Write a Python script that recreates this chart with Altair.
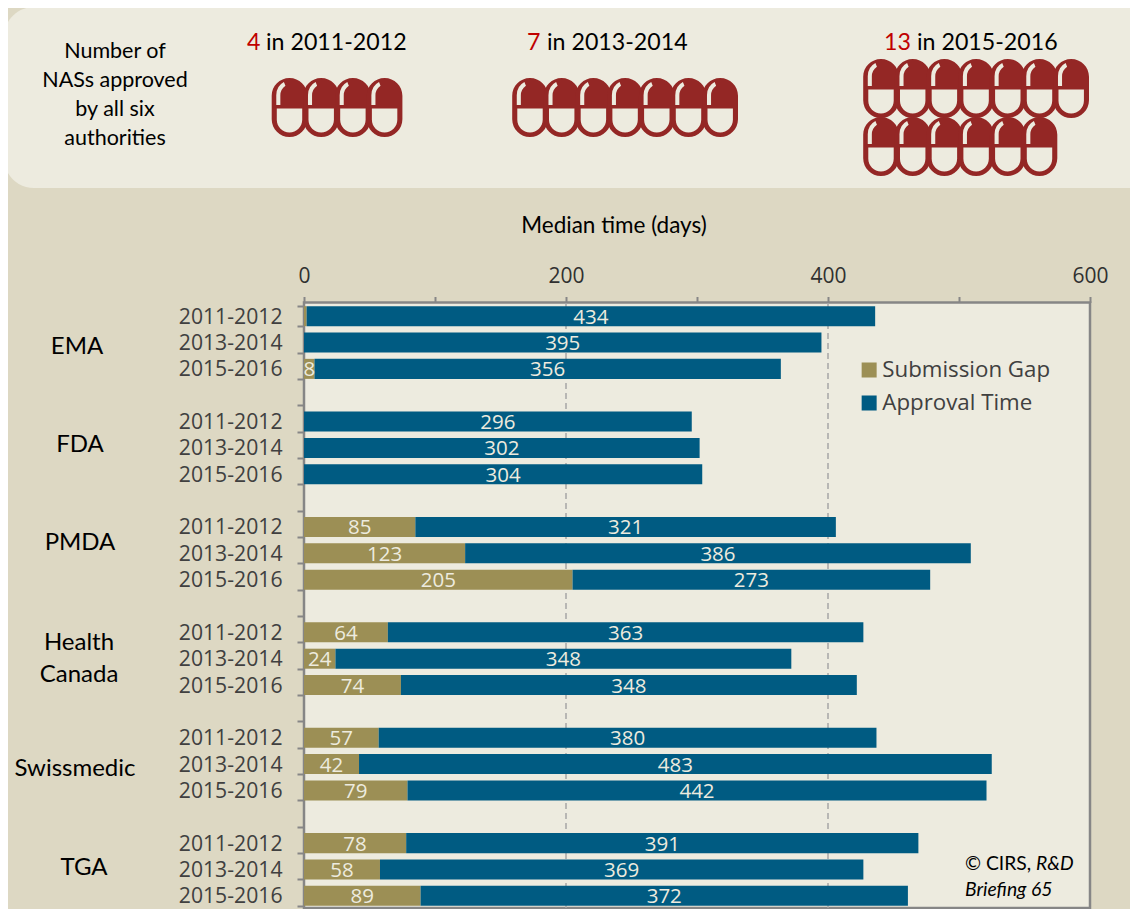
import altair as alt
import pandas as pd

# ---------- data ----------
agencies = ["EMA", "FDA", "PMDA", "Health Canada", "Swissmedic", "TGA"]
years = ["2011-2012", "2013-2014", "2015-2016"]
submission_gap = [2, 0, 8, 0, 0, 0, 85, 123, 205, 64, 24, 74, 57, 42, 79, 78, 58, 89]
approval_time = [434, 395, 356, 296, 302, 304, 321, 386, 273, 363, 348, 348, 380, 483, 442, 391, 369, 372]
x_ticks = [0, 100, 200, 300, 400, 500, 600]
grid_values = [200, 400]
pill_counts = [4, 7, 13]
pill_years = ["2011-2012", "2013-2014", "2015-2016"]
series_names = ["Submission Gap", "Approval Time"]

# ---------- styles ----------
BG, PANEL = "#DDD8C3", "#EDEBDF"
TEAL, OLIVE, PILL, RED = "#005B82", "#9C8F55", "#942725", "#C00000"
AXIS = "#868686"
W, H = 1122, 901
M = 8  # page margin: picture coordinates minus this


def px(v):
    return v - M


X_RANGE = [px(304), px(1090)]
Y_RANGE = [px(303), px(909)]

rows, y_domain = [], []
i = 0
for a_i, a in enumerate(agencies):
    for y_ in years:
        key = f"{a}|{y_}"
        y_domain.append(key)
        g, t = submission_gap[i], approval_time[i]
        if g > 0:
            rows.append(dict(key=key, series=series_names[0], start=0, end=g, mid=g / 2, value=g, show=g >= 8))
        rows.append(dict(key=key, series=series_names[1], start=g, end=g + t, mid=g + t / 2, value=t, show=True))
        i += 1
    if a_i < len(agencies) - 1:
        y_domain.append(f"gap{a_i}|")
df = pd.DataFrame(rows)

x_scale = alt.Scale(domain=[0, 600], range=X_RANGE, nice=False)
y_scale = alt.Scale(domain=y_domain, range=Y_RANGE, paddingInner=0.24, paddingOuter=0.12)
bar_color = alt.Color(
    "series:N",
    scale=alt.Scale(domain=series_names, range=[OLIVE, TEAL]),
    legend=alt.Legend(
        title=None, orient="none", legendX=px(858), legendY=px(357.5), symbolType="square", symbolSize=225,
        symbolStrokeWidth=0, labelFont="Open Sans", labelFontSize=22.3, labelColor="#404040",
        rowPadding=8, labelOffset=2, clipHeight=25, labelLimit=400,
    ),
)


def note(text, x, y, size=23, color="black", font="Lato", align="center", **kw):
    return alt.Chart(pd.DataFrame({"t": [text]})).mark_text(
        font=font, fontSize=size, color=color, align=align, baseline="middle", lineBreak="\n", **kw
    ).encode(x=alt.value(px(x)), y=alt.value(px(y)), text="t:N")


one = pd.DataFrame({"a": [0]})
top_panel = alt.Chart(one).mark_rect(fill=PANEL, cornerRadius=30).encode(
    x=alt.value(px(4)), x2=alt.value(px(1160)), y=alt.value(px(7)), y2=alt.value(px(188))
)
plot_panel = alt.Chart(one).mark_rect(fill=PANEL, stroke=AXIS, strokeWidth=2.5).encode(
    x=alt.value(px(304)), x2=alt.value(px(1090)), y=alt.value(px(302.5)), y2=alt.value(px(908))
)

axes_layer = alt.Chart(pd.DataFrame({"v": x_ticks, "key": y_domain[: len(x_ticks)]})).mark_point(opacity=0).encode(
    x=alt.X(
        "v:Q", scale=x_scale,
        axis=alt.Axis(
            orient="top", offset=-px(302.5), values=x_ticks, title=None, grid=False, domain=False,
            labelExpr="datum.value % 200 === 0 ? datum.label : ''", labelFont="Open Sans", labelFontSize=21,
            labelColor="#303030", labelPadding=10, tickColor=AXIS, tickWidth=2, tickSize=6, labelFlush=False,
        ),
    ),
    y=alt.Y(
        "key:N", scale=y_scale,
        axis=alt.Axis(
            orient="left", offset=-px(304), title=None, grid=False, domain=False, tickBand="extent",
            tickOffset=-3.16, labelExpr="split(datum.value, '|')[1]", labelFont="Open Sans", labelFontSize=21.2,
            labelColor="#404040", labelPadding=15, labelOffset=1, tickColor=AXIS, tickWidth=2, tickSize=7,
        ),
    ),
)

grid = alt.Chart(pd.DataFrame({"v": grid_values})).mark_rule(color="#A6A6A6", strokeWidth=1.5, strokeDash=[6, 4]).encode(
    x=alt.X("v:Q", scale=x_scale, axis=None), y=alt.value(px(303)), y2=alt.value(px(908))
)

bars = alt.Chart(df).mark_bar().encode(
    x=alt.X("start:Q", scale=x_scale, axis=None),
    x2="end:Q",
    y=alt.Y("key:N", scale=y_scale, axis=None),
    color=bar_color,
)
values = alt.Chart(df[df["show"]]).mark_text(
    font="Open Sans", fontSize=20.5, color=PANEL, baseline="middle", dy=1.5
).encode(
    x=alt.X("mid:Q", scale=x_scale, axis=None),
    y=alt.Y("key:N", scale=y_scale, axis=None),
    text="value:Q",
)

# pill glyph: picture pixels about its centre, divided by half its height
R = 29.0


def P(x, y):
    return f"{x / R:.4f} {y / R:.4f}"


k = 0.5523
hw, top, hr = 17.5, -11.5, 17.5
ihw, ir = 12.5, 12.5
PILL_PATH = (
    f"M{P(-hw, top)} C{P(-hw, top - k * hr)} {P(-k * hr, -R)} {P(0, -R)} "
    f"C{P(k * hr, -R)} {P(hw, top - k * hr)} {P(hw, top)} L{P(hw, -top)} "
    f"C{P(hw, -top + k * hr)} {P(k * hr, R)} {P(0, R)} C{P(-k * hr, R)} {P(-hw, -top + k * hr)} {P(-hw, -top)} Z "
    f"M{P(-ihw, 1)} L{P(-ihw, 12)} C{P(-ihw, 12 + k * ir)} {P(-k * ir, 24.5)} {P(0, 24.5)} "
    f"C{P(k * ir, 24.5)} {P(ihw, 12 + k * ir)} {P(ihw, 12)} L{P(ihw, 1)} Z "
    f"M{P(-13, -2.5)} L{P(-9, -2.5)} L{P(-9, -12)} Q{P(-9, -18)} {P(-4, -21.5)} L{P(-5.5, -25)} "
    f"Q{P(-13, -21)} {P(-13, -12)} Z"
)

pill_layout = [
    dict(x0=289.5, y0=107.5),
    dict(x0=530, y0=107.5),
    dict(x0=881, y0=88.5),
]
pills = []
for n, pos in zip(pill_counts, pill_layout):
    pdf = pd.DataFrame({"col": [j % 7 for j in range(n)], "row": [j // 7 for j in range(n)]})
    pills.append(
        alt.Chart(pdf).mark_point(shape=PILL_PATH, size=59.0 ** 2, filled=True, fill=PILL, opacity=1, strokeWidth=0).encode(
            x=alt.X("col:Q", scale=alt.Scale(domain=[0, 1], range=[px(pos["x0"]), px(pos["x0"] + 31.7)]), axis=None),
            y=alt.Y("row:Q", scale=alt.Scale(domain=[0, 1], range=[px(pos["y0"]), px(pos["y0"] + 58)]), axis=None),
        )
    )

notes = [
    note("Number of\nNASs approved\nby all six\nauthorities", 115, 52, size=21.5, lineHeight=29),
    note(str(pill_counts[0]), 247, 42.5, size=23.2, color=RED, align="left"),
    note(f"in {pill_years[0]}", 266, 42.5, size=23.2, align="left"),
    note(str(pill_counts[1]), 527, 42.5, size=23.2, color=RED, align="left"),
    note(f"in {pill_years[1]}", 547, 42.5, size=23.2, align="left"),
    note(str(pill_counts[2]), 884, 42.5, size=23.2, color=RED, align="left"),
    note(f"in {pill_years[2]}", 917, 42.5, size=23.2, align="left"),
    note("Median time (days)", 614, 226, size=22.5),
    note("EMA", 77, 347, size=24),
    note("FDA", 80, 445, size=24),
    note("PMDA", 80, 543, size=24),
    note("Health\nCanada", 79, 643, size=24, lineHeight=32),
    note("Swissmedic", 75, 769, size=24),
    note("TGA", 84, 868, size=24),
    note("© CIRS,", 965, 864, size=19.3, align="left"),
    note("R&D", 1036, 864, size=19.3, align="left", fontStyle="italic"),
    note("Briefing 65", 965, 890, size=19.3, align="left", fontStyle="italic"),
]

chart = (
    alt.layer(top_panel, plot_panel, axes_layer, grid, bars, values, *pills, *notes)
    .resolve_scale(x="independent", y="independent", color="independent")
    .properties(width=W, height=H, padding=0, background=BG, autosize=alt.AutoSizeParams(type="none"))
    .configure_view(stroke=None)
)

chart.save("out.html", embed_options={"renderer": "svg", "actions": False})
